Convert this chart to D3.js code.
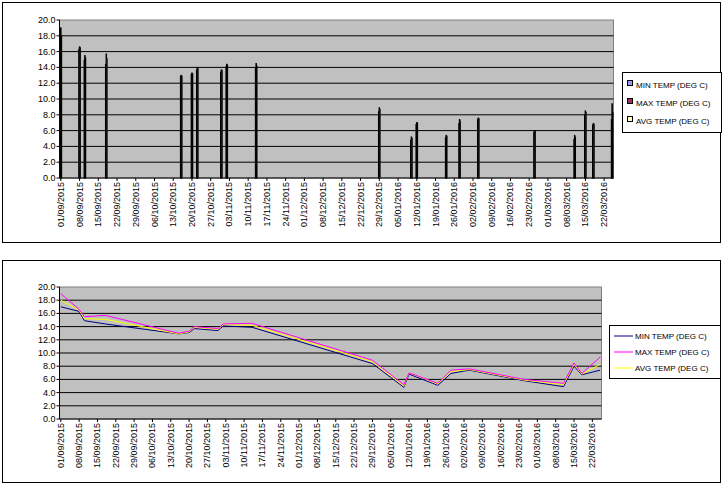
<!DOCTYPE html>
<html><head><meta charset="utf-8">
<script src="https://cdn.jsdelivr.net/npm/d3@7"></script>
<style>body{margin:0;background:#fff}svg{font-family:"Liberation Sans",Arial,sans-serif}</style>
</head><body><svg id="c" width="726" height="485"></svg>
<script>
// day offsets from 01/09/2015
const days = [0,7,9,17,45,49,51,60,62,73,119,131,133,144,149,156,177,192,196,199,206];
const minTemp = [17.0,16.3,14.9,14.4,12.9,13.1,13.7,13.4,14.1,13.9,8.4,4.8,6.8,5.1,6.9,7.4,5.8,4.9,8.0,6.7,7.4];
const maxTemp = [19.0,16.6,15.5,15.7,13.0,13.3,14.0,13.7,14.4,14.5,8.9,5.2,7.0,5.4,7.4,7.6,6.0,5.4,8.5,6.9,9.4];
const avgTemp = [18.0,16.5,15.2,15.1,12.9,13.2,13.9,13.6,14.3,14.2,8.7,5.0,7.0,5.3,7.2,7.5,5.9,5.2,8.3,6.8,8.3];
const seriesNames = ["MIN TEMP (DEG C)","MAX TEMP (DEG C)","AVG TEMP (DEG C)"];
const yTicks = [0,2,4,6,8,10,12,14,16,18,20];
const nDays = 207;
const start = new Date(2015,8,1);
const fmt = d3.timeFormat("%d/%m/%Y");
const tickDays = d3.range(0,nDays,7);

const svg = d3.select("#c");
const series = [minTemp,maxTemp,avgTemp];

function frame(y0,y1){
  svg.append("rect").attr("x",2.5).attr("y",y0+.5).attr("width",718).attr("height",y1-y0)
    .attr("fill","#fff").attr("stroke","#000");
}
function axes(x,y,left,right,top,bottom){
  const g=svg.append("g");
  g.append("rect").attr("x",left).attr("y",top).attr("width",right-left).attr("height",bottom-top)
    .attr("fill","#c0c0c0").attr("stroke","#808080");
  yTicks.forEach(t=>{
    if(t>0&&t<20) g.append("line").attr("x1",left).attr("x2",right).attr("y1",y(t)).attr("y2",y(t)).attr("stroke","#000");
    g.append("line").attr("x1",left-3).attr("x2",left).attr("y1",y(t)).attr("y2",y(t)).attr("stroke","#000");
    g.append("text").attr("x",left-4).attr("y",y(t)+3).attr("text-anchor","end").attr("font-size",9).text(t.toFixed(1));
  });
  g.append("line").attr("x1",left).attr("x2",left).attr("y1",top).attr("y2",bottom).attr("stroke","#000");
  g.append("line").attr("x1",left).attr("x2",right).attr("y1",bottom).attr("y2",bottom).attr("stroke","#000");
  tickDays.forEach(d=>{
    const xx=x(d);
    g.append("line").attr("x1",xx).attr("x2",xx).attr("y1",bottom).attr("y2",bottom+3).attr("stroke","#000");
    g.append("text").attr("transform",`translate(${xx+3},${bottom+4}) rotate(-90)`).attr("text-anchor","end")
      .attr("font-size",9).text(fmt(d3.timeDay.offset(start,d)));
  });
}

// top chart
frame(2,242);
{
  const left=59.5,right=613.5,top=20,bottom=178;
  const x=d3.scaleBand().domain(d3.range(nDays)).range([left,right]);
  const xc=d=>x(d)+x.bandwidth()/2;
  const y=d3.scaleLinear().domain([0,20]).range([bottom,top]);
  axes(xc,y,left,right,top,bottom);
  const bw=x.bandwidth()/4.5;
  const fills=["#9999ff","#993366","#ffffcc"];
  series.forEach((s,i)=>{
    svg.append("g").selectAll("rect").data(days).join("rect")
      .attr("x",(d)=>x(d)+x.bandwidth()*0.16+i*bw).attr("width",bw)
      .attr("y",(d,j)=>y(s[j])).attr("height",(d,j)=>bottom-y(s[j]))
      .attr("fill",fills[i]).attr("stroke","#000").attr("stroke-width",0.9);
  });
  const lg=svg.append("g");
  lg.append("rect").attr("x",622.5).attr("y",72.5).attr("width",99).attr("height",60).attr("fill","#fff").attr("stroke","#000");
  seriesNames.forEach((n,i)=>{
    const yy=85+i*18;
    lg.append("rect").attr("x",627.5).attr("y",yy-4.5).attr("width",5).attr("height",5).attr("fill",fills[i]).attr("stroke","#000");
    lg.append("text").attr("x",636).attr("y",yy+3).attr("font-size",8).text(n);
  });
}

// bottom chart
frame(260,482);
{
  const left=59.5,right=601.5,top=287,bottom=419;
  const x=d3.scaleBand().domain(d3.range(nDays)).range([left,right]);
  const xc=d=>x(d)+x.bandwidth()/2;
  const y=d3.scaleLinear().domain([0,20]).range([bottom,top]);
  axes(xc,y,left,right,top,bottom);
  const cols=["#000080","#ff00ff","#ffff00"];
  [0,2,1].forEach(i=>{
    const line=d3.line().x(d=>xc(d)).y((d,j)=>y(series[i][j]));
    svg.append("path").attr("d",line(days)).attr("fill","none").attr("stroke",cols[i]).attr("stroke-width",1);
  });
  const lg=svg.append("g");
  lg.append("rect").attr("x",609.5).attr("y",325.5).attr("width",111).attr("height",53).attr("fill","#fff").attr("stroke","#000");
  seriesNames.forEach((n,i)=>{
    const yy=336+i*16;
    lg.append("line").attr("x1",614).attr("x2",633).attr("y1",yy).attr("y2",yy).attr("stroke",cols[i]);
    lg.append("text").attr("x",635).attr("y",yy+3).attr("font-size",8).text(n);
  });
}
</script></body></html>
